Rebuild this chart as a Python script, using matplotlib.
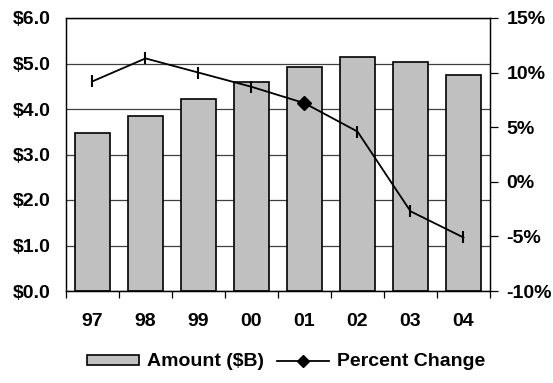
import numpy as np
import matplotlib.pyplot as plt
from matplotlib.lines import Line2D
from matplotlib.patches import Patch

years = ["97", "98", "99", "00", "01", "02", "03", "04"]
amount = [3.47, 3.85, 4.23, 4.59, 4.93, 5.14, 5.04, 4.75]
pct_change = [9.2, 11.3, 10.0, 8.7, 7.2, 4.6, -2.7, -5.1]
left_ticks = [0, 1, 2, 3, 4, 5, 6]
left_labels = ["$0.0", "$1.0", "$2.0", "$3.0", "$4.0", "$5.0", "$6.0"]
right_ticks = [-10, -5, 0, 5, 10, 15]
right_labels = ["-10%", "-5%", "0%", "5%", "10%", "15%"]

plt.rcParams["font.family"] = ["Liberation Sans", "DejaVu Sans"]
plt.rcParams["font.weight"] = "bold"
plt.rcParams["font.size"] = 14

fig = plt.figure(figsize=(5.53, 3.83), dpi=100, facecolor="w")
ax = fig.add_axes([66 / 553, 1 - 291 / 383, 424 / 553, 273 / 383])
x = np.arange(len(years))

ax.set_axisbelow(True)
ax.yaxis.grid(True, color="#404040", linewidth=0.9)
ax.bar(x, amount, width=0.66, color="#c0c0c0", edgecolor="black", linewidth=1.2, zorder=2)
ax.set_xlim(-0.5, len(years) - 0.5)
ax.set_ylim(0, 6)
ax.set_yticks(left_ticks)
ax.set_yticklabels(left_labels, fontweight="bold")
ax.tick_params(axis="y", length=0, pad=11)
ax.set_xticks(np.arange(-0.5, len(years), 1.0))
ax.set_xticklabels([])
ax.tick_params(axis="x", which="major", direction="out", length=5, width=0.9)
ax.set_xticks(x, minor=True)
ax.set_xticklabels(years, minor=True, fontweight="bold")
ax.tick_params(axis="x", which="minor", length=0, pad=16)
for s in ax.spines.values():
    s.set_linewidth(0.9)

ax2 = ax.twinx()
ax2.set_ylim(-10, 15)
ax2.set_yticks(right_ticks)
ax2.set_yticklabels(right_labels, fontweight="bold")
ax2.tick_params(axis="y", direction="out", length=6, width=0.9, pad=6)
ax2.plot(x, pct_change, color="black", linewidth=1.3, marker="|", markersize=9,
         markeredgewidth=1.5, zorder=3)
ax2.plot(x[4], pct_change[4], marker="D", color="black", markersize=7, zorder=4)
for s in ax2.spines.values():
    s.set_linewidth(0.9)

handles = [
    Patch(facecolor="#c0c0c0", edgecolor="black", linewidth=1.2),
    Line2D([], [], color="black", linewidth=1.3, marker="D", markersize=6),
]
fig.legend(handles, ["Amount ($B)", "Percent Change"], loc="center",
           bbox_to_anchor=(286 / 553, 1 - 362 / 383), ncol=2, frameon=False,
           handlelength=2.7, handleheight=0.42, handletextpad=0.4, columnspacing=0.67,
           prop={"weight": "bold", "size": 14})

plt.savefig("out.png", dpi=100)
